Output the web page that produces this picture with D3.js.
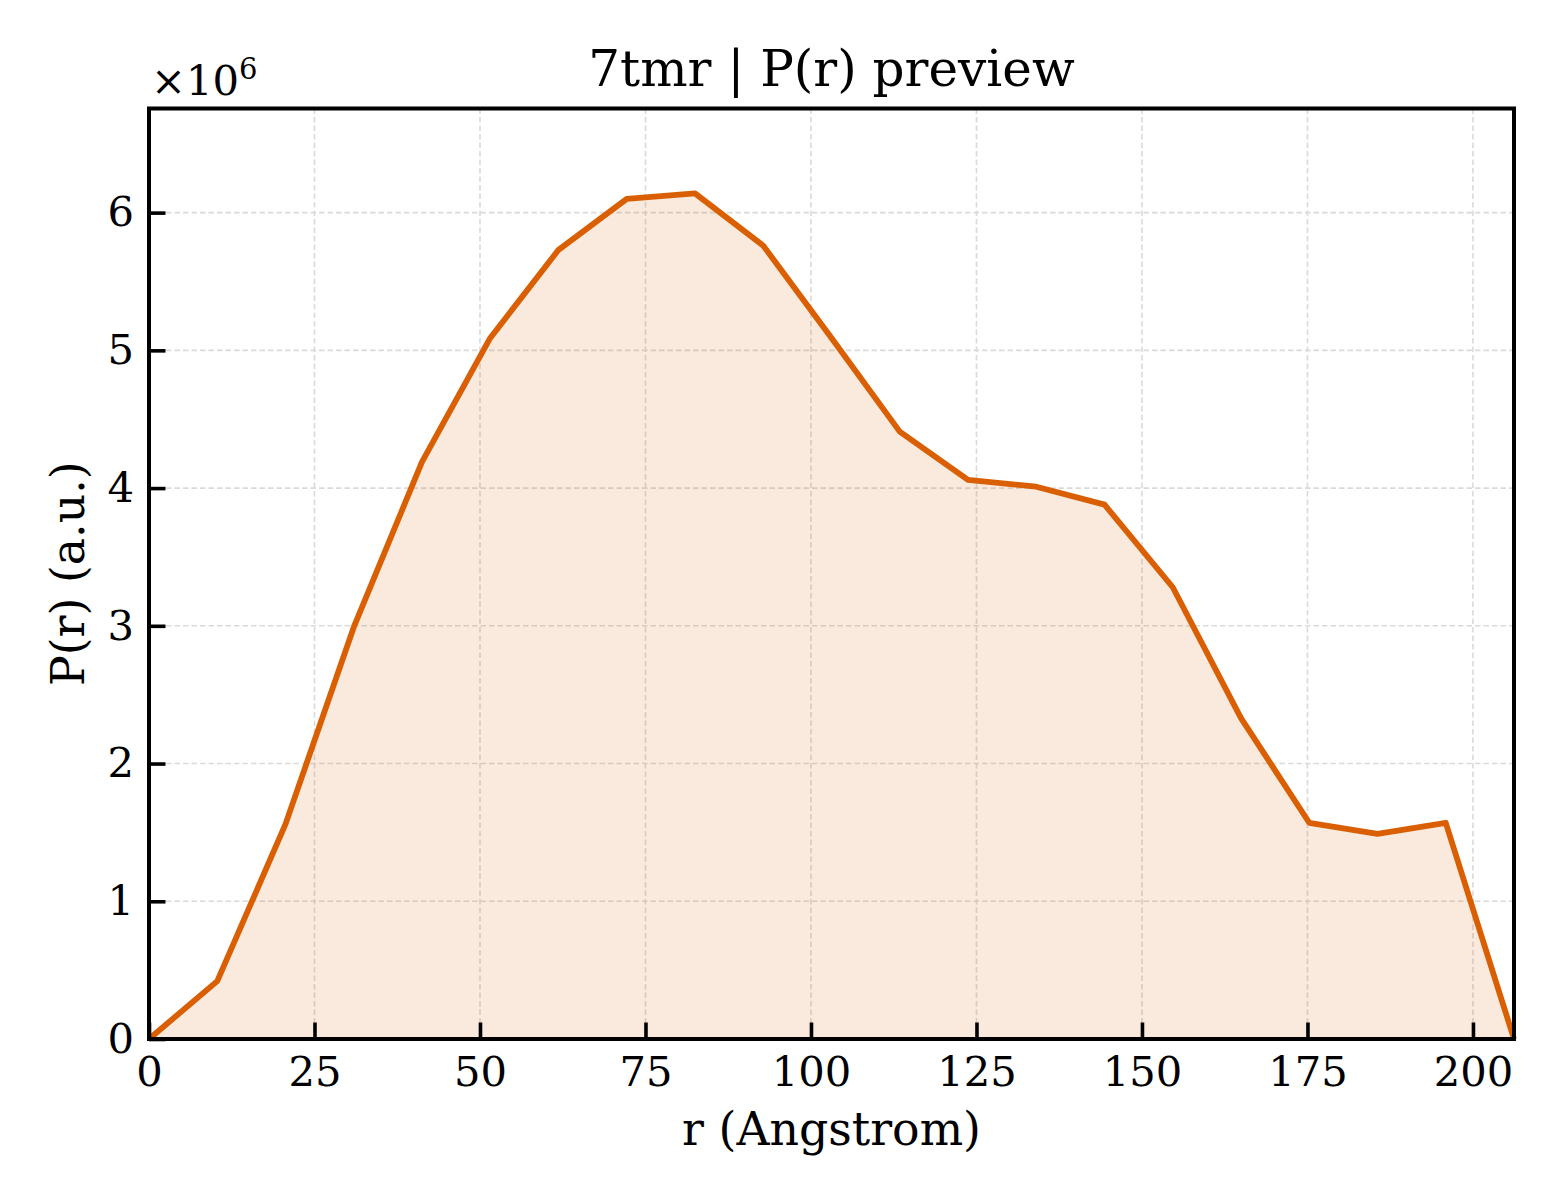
<!DOCTYPE html>
<html>
<head>
<meta charset="utf-8">
<script src="https://cdn.jsdelivr.net/npm/d3@7"></script>
<style>
  body { margin: 0; background: #fff; }
  svg text { font-family: "DejaVu Serif", serif; fill: #000; }
</style>
</head>
<body>
<svg id="chart" width="1560" height="1200"></svg>
<script>
// P(r) values (units of 1e6)
const rValues = [0, 10.31, 20.62, 30.93, 41.24, 51.55, 61.86, 72.17, 82.48, 92.79, 103.1,
  113.41, 123.72, 134.03, 144.34, 154.65, 164.96, 175.27, 185.58, 195.89, 206.2]
const prValues = [0, 0.42, 1.56, 2.99, 4.19, 5.09, 5.73, 6.10, 6.14, 5.76, 5.09,
  4.41, 4.06, 4.01, 3.88, 3.28, 2.33, 1.57, 1.49, 1.57, 0]
const xTicks = [0, 25, 50, 75, 100, 125, 150, 175, 200]
const yTicks = [0, 1, 2, 3, 4, 5, 6]

const svg = d3.select("#chart")
const plotLeft = 149, plotRight = 1514, plotTop = 108.5, plotBottom = 1039
const lineColor = "#d95f02"

const x = d3.scaleLinear().domain([0, 206.2]).range([plotLeft, plotRight])
const y = d3.scaleLinear().domain([0, 6.756]).range([plotBottom, plotTop])

const data = rValues.map((r, i) => ({ r: r, p: prValues[i] }))

// grid
const grid = svg.append("g")
grid.selectAll(".gx")
  .data(xTicks)
  .join("line")
  .attr("x1", d => x(d)).attr("x2", d => x(d))
  .attr("y1", plotTop).attr("y2", plotBottom)
  .attr("stroke", "#dadada")
  .attr("stroke-width", 1.6)
  .attr("stroke-dasharray", "5.5,3")

grid.selectAll(".gy")
  .data(yTicks)
  .join("line")
  .attr("x1", plotLeft).attr("x2", plotRight)
  .attr("y1", d => y(d)).attr("y2", d => y(d))
  .attr("stroke", "#dadada")
  .attr("stroke-width", 1.6)
  .attr("stroke-dasharray", "5.5,3")

// filled area + line
svg.append("path")
  .datum(data)
  .attr("d", d3.area().x(d => x(d.r)).y0(y(0)).y1(d => y(d.p)))
  .attr("fill", lineColor)
  .attr("fill-opacity", 0.13)

svg.append("path")
  .datum(data)
  .attr("d", d3.line().x(d => x(d.r)).y(d => y(d.p)))
  .attr("fill", "none")
  .attr("stroke", lineColor)
  .attr("stroke-width", 5.8)
  .attr("stroke-linejoin", "round")

// axes with inward ticks
const xAxis = svg.append("g")
  .attr("transform", `translate(0,${plotBottom})`)
  .call(d3.axisBottom(x).tickValues(xTicks).tickSize(-16.5).tickPadding(17).tickFormat(d3.format("d")))

const yAxis = svg.append("g")
  .attr("transform", `translate(${plotLeft},0)`)
  .call(d3.axisLeft(y).tickValues(yTicks).tickSize(-16.5).tickPadding(15).tickFormat(d3.format("d")))

;[xAxis, yAxis].forEach(g => {
  g.select(".domain").remove()
  g.selectAll(".tick line").attr("stroke", "#000").attr("stroke-width", 3.6)
  g.selectAll(".tick text").attr("font-size", 41.7).attr("font-family", "DejaVu Serif").attr("fill", "#000")
})

// frame
svg.append("rect")
  .attr("x", plotLeft).attr("y", plotTop)
  .attr("width", plotRight - plotLeft).attr("height", plotBottom - plotTop)
  .attr("fill", "none")
  .attr("stroke", "#000")
  .attr("stroke-width", 4)

// texts
svg.append("text")
  .attr("x", (plotLeft + plotRight) / 2).attr("y", 86)
  .attr("text-anchor", "middle")
  .attr("font-size", 50)
  .text("7tmr | P(r) preview")

svg.append("text")
  .attr("x", (plotLeft + plotRight) / 2).attr("y", 1145)
  .attr("text-anchor", "middle")
  .attr("font-size", 45.8)
  .text("r (Angstrom)")

svg.append("text")
  .attr("transform", `translate(84,${(plotTop + plotBottom) / 2}) rotate(-90)`)
  .attr("text-anchor", "middle")
  .attr("font-size", 45.8)
  .text("P(r) (a.u.)")

const offset = svg.append("text")
  .attr("x", 151).attr("y", 95)
  .attr("font-size", 41.7)
offset.append("tspan").text("×10")
offset.append("tspan").attr("dy", -16).attr("font-size", 29).text("6")
</script>
</body>
</html>
